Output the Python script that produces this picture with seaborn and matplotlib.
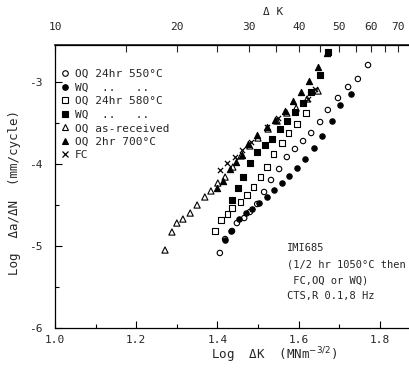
import numpy as np
import pandas as pd
import seaborn as sns
import matplotlib.pyplot as plt
from matplotlib.lines import Line2D
from matplotlib.ticker import MultipleLocator, FixedLocator, NullFormatter

sns.set_theme(style="ticks")
plt.rcParams['font.family'] = ['DejaVu Sans Mono', 'DejaVu Sans']
plt.rcParams['axes.unicode_minus'] = False

# log dK (MNm^-3/2) and log da/dN (mm/cycle)
oq550_k = [1.406, 1.419, 1.436, 1.448, 1.466, 1.480, 1.498, 1.515, 1.532, 1.552,
           1.571, 1.591, 1.611, 1.631, 1.653, 1.672, 1.697, 1.722, 1.746, 1.771]
oq550_r = [-5.085, -4.915, -4.817, -4.720, -4.659, -4.585, -4.488, -4.341, -4.195, -4.061,
           -3.915, -3.817, -3.720, -3.622, -3.488, -3.341, -3.195, -3.061, -2.963, -2.793]

wq550_k = [1.419, 1.433, 1.453, 1.470, 1.485, 1.502, 1.522, 1.539, 1.559, 1.576,
           1.596, 1.616, 1.638, 1.658, 1.682, 1.702, 1.729]
wq550_r = [-4.927, -4.817, -4.671, -4.598, -4.549, -4.476, -4.402, -4.317, -4.232, -4.146,
           -4.049, -3.939, -3.805, -3.659, -3.476, -3.280, -3.146]

oq580_k = [1.394, 1.409, 1.424, 1.436, 1.456, 1.473, 1.488, 1.507, 1.522, 1.539,
           1.559, 1.576, 1.596, 1.618]
oq580_r = [-4.817, -4.683, -4.610, -4.537, -4.463, -4.378, -4.280, -4.159, -4.037, -3.878,
           -3.744, -3.622, -3.512, -3.378]

wq580_k = [1.436, 1.451, 1.463, 1.480, 1.498, 1.517, 1.534, 1.554, 1.571, 1.591,
           1.611, 1.631, 1.653, 1.672]
wq580_r = [-4.439, -4.293, -4.159, -3.988, -3.854, -3.768, -3.695, -3.573, -3.476, -3.366,
           -3.256, -3.122, -2.915, -2.634]

asrec_k = [1.271, 1.288, 1.300, 1.315, 1.333, 1.350, 1.369, 1.384, 1.401, 1.419,
           1.438, 1.458, 1.480, 1.500, 1.525, 1.547, 1.571, 1.594, 1.621, 1.648]
asrec_r = [-5.049, -4.829, -4.720, -4.671, -4.598, -4.500, -4.402, -4.329, -4.232, -4.159,
           -4.037, -3.902, -3.780, -3.683, -3.573, -3.476, -3.378, -3.317, -3.207, -3.110]

oq700_k = [1.399, 1.414, 1.431, 1.446, 1.461, 1.475, 1.498, 1.522, 1.542, 1.567,
           1.586, 1.606, 1.626, 1.648, 1.670]
oq700_r = [-4.293, -4.207, -4.061, -3.976, -3.890, -3.756, -3.646, -3.549, -3.463, -3.354,
           -3.232, -3.122, -2.988, -2.817, -2.646]

fc_k = [1.406, 1.424, 1.443, 1.461, 1.483, 1.522, 1.549, 1.623, 1.640]
fc_r = [-4.073, -3.988, -3.915, -3.829, -3.732, -3.549, -3.439, -3.207, -3.085]

labels = ["OQ 24hr 550°C", "WQ  ..   ..", "OQ 24hr 580°C", "WQ  ..   ..",
          "OQ as-received", "OQ 2hr 700°C", "FC"]

top_ticks = [10, 20, 30, 40, 50, 60, 70]
top_minor = [15, 25, 35, 45, 55, 65, 75]

series = [
    (oq550_k, oq550_r, 'o', 'none', 15),
    (wq550_k, wq550_r, 'o', 'black', 15),
    (oq580_k, oq580_r, 's', 'none', 14),
    (wq580_k, wq580_r, 's', 'black', 14),
    (asrec_k, asrec_r, '^', 'none', 20),
    (oq700_k, oq700_r, '^', 'black', 20),
    (fc_k, fc_r, 'x', None, 14),
]

fig = plt.figure(figsize=(4.09, 3.68), dpi=100)
ax = fig.add_axes([55/409, 1 - 328/368, 354/409, 283/368])

handles = []
for k, r, m, fc, s in series:
    df = pd.DataFrame({'k': k, 'r': r})
    if m == 'x':
        sns.scatterplot(data=df, x='k', y='r', ax=ax, marker='x', color='black',
                        s=s, linewidth=0.9, legend=False)
        handles.append(Line2D([], [], marker='x', ls='none', color='black', ms=4, mew=0.9))
    else:
        sns.scatterplot(data=df, x='k', y='r', ax=ax, marker=m, facecolor=fc,
                        edgecolor='black', s=s, linewidth=0.8, legend=False)
        handles.append(Line2D([], [], marker=m, ls='none', mfc=fc, mec='black',
                              ms=4 if m != '^' else 4.5, mew=0.8))

ax.set_xlim(1.0, 1.0 + 354/406)
ax.set_ylim(-6, -6 + 283/82)
ax.xaxis.set_major_locator(MultipleLocator(0.2))
ax.xaxis.set_minor_locator(MultipleLocator(0.1))
ax.yaxis.set_major_locator(MultipleLocator(1))
ax.yaxis.set_minor_locator(MultipleLocator(0.5))
ax.xaxis.set_major_formatter(plt.FuncFormatter(lambda v, p: f"{v:.1f}"))
ax.yaxis.set_major_formatter(plt.FuncFormatter(lambda v, p: f"-{abs(v):.0f}"))
ax.tick_params(which='both', direction='in', top=False, right=False, color='black',
               labelsize=8, width=0.8)
ax.tick_params(which='major', length=5)
ax.tick_params(which='minor', length=3)
ax.tick_params(axis='x', pad=5)
ax.tick_params(axis='y', pad=9)
ax.spines['right'].set_visible(False)
for sp in ['left', 'bottom', 'top']:
    ax.spines[sp].set_linewidth(0.9)
    ax.spines[sp].set_color('black')

ax.set_xlabel("Log  ΔK  (MNm$^{-3/2}$)", fontsize=9)
ax.xaxis.set_label_coords(0.62, -0.06)
ax.set_ylabel("Log  Δa/ΔN  (mm/cycle)", fontsize=9)
ax.yaxis.set_label_coords(-0.095, 0.48)

secax = ax.secondary_xaxis('top', functions=(lambda x: 10**x, np.log10))
secax.set_xticks(top_ticks)
secax.set_xticklabels([str(t) for t in top_ticks])
secax.xaxis.set_minor_locator(FixedLocator(top_minor))
secax.xaxis.set_minor_formatter(NullFormatter())
secax.tick_params(which='both', direction='in', labelsize=8, width=0.8, pad=9)
secax.tick_params(which='major', length=5)
secax.tick_params(which='minor', length=5)
fig.text(273/409, 1 - 12/368, "Δ K", fontsize=8, ha='center', va='center')

ax.legend(handles, labels, loc='upper left', bbox_to_anchor=(0.015, 0.915),
          frameon=False, fontsize=8, handlelength=0.8, handletextpad=0.5,
          labelspacing=0.32, borderpad=0, borderaxespad=0)

ax.text(0.655, 0.30, "IMI685\n(1/2 hr 1050°C then\n FC,OQ or WQ)\nCTS,R 0.1,8 Hz",
        transform=ax.transAxes, fontsize=7.5, va='top', ha='left', linespacing=1.75)

fig.savefig("out.png", dpi=100)
